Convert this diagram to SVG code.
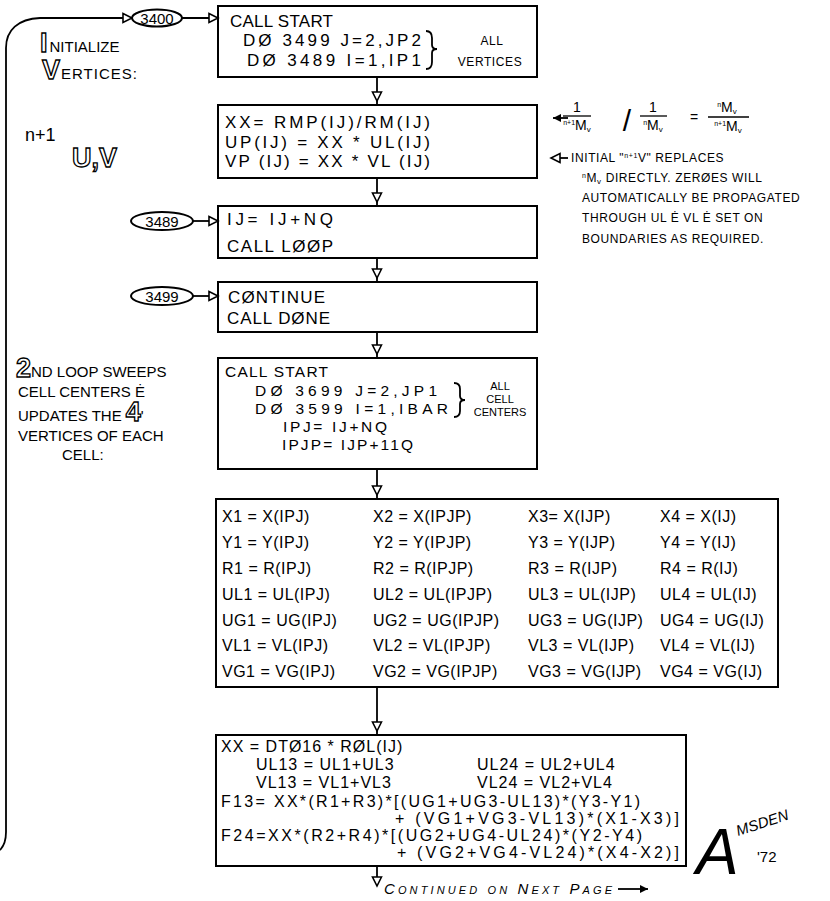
<svg xmlns="http://www.w3.org/2000/svg" width="830" height="901" viewBox="0 0 830 901">
<style>
.bg{fill:#fff}
.box{fill:none;stroke:#000;stroke-width:2}
.conn{fill:none;stroke:#000;stroke-width:1.8}
.oval{fill:#fff;stroke:#000;stroke-width:2}
text{font-family:"Liberation Sans",Arial,sans-serif;fill:#000}
.t{font-size:17px}
.t5{font-size:15.5px}
.tb{font-size:16px;letter-spacing:0.5px}
.tf{font-size:16px;letter-spacing:1px}
.nt{font-size:12px;letter-spacing:0.6px}
.lb{font-size:15px}
.big{font-size:27px;font-weight:bold;fill:#fff;stroke:#000;stroke-width:1.3px}
.ov{font-size:15px;text-anchor:middle}
.sm{font-size:11px;text-anchor:middle}
.fr{font-size:14px;text-anchor:middle}
</style>
<defs>
<marker id="ah" markerUnits="userSpaceOnUse" markerWidth="20" markerHeight="20" refX="13" refY="4.5" orient="auto" overflow="visible">
<path d="M0,0 L9,4.5 L0,9 Z" fill="#fff" stroke="#000" stroke-width="1.6"/>
</marker>
<marker id="ahl" markerUnits="userSpaceOnUse" markerWidth="20" markerHeight="20" refX="9" refY="4.5" orient="auto" overflow="visible">
<path d="M0,0 L9,4.5 L0,9 Z" fill="#fff" stroke="#000" stroke-width="1.6"/>
</marker>
<marker id="ahf" markerUnits="userSpaceOnUse" markerWidth="20" markerHeight="20" refX="8" refY="4" orient="auto" overflow="visible">
<path d="M0,0 L8,4 L0,8 Z" fill="#000"/>
</marker>
</defs>
<rect class="bg" x="0" y="0" width="830" height="901"/>

<g id="connectors">
<path class="conn" d="M0,850 Q6,844 6,832 L6,48 C6,30 18,19 40,18 L132,18" marker-end="url(#ahl)"/>
<path class="conn" d="M182,18 L218,18" marker-end="url(#ahl)"/>
<path class="conn" d="M193,221 L218,221" marker-end="url(#ahl)"/>
<path class="conn" d="M193,296 L218,296" marker-end="url(#ahl)"/>
<path class="conn" d="M377,77 L377,105" marker-end="url(#ah)"/>
<path class="conn" d="M377,178 L377,206" marker-end="url(#ah)"/>
<path class="conn" d="M377,258 L377,282" marker-end="url(#ah)"/>
<path class="conn" d="M377,332 L377,358" marker-end="url(#ah)"/>
<path class="conn" d="M377,469 L377,499" marker-end="url(#ah)"/>
<path class="conn" d="M377,687 L377,735" marker-end="url(#ah)"/>
<path class="conn" d="M377,866 L377,886" marker-end="url(#ahl)"/>
</g>

<g id="oval3400">
<ellipse class="oval" cx="157" cy="18" rx="25" ry="8.5"/>
<text class="ov" x="157" y="23.5">3400</text>
</g>
<g id="oval3489">
<ellipse class="oval" cx="162" cy="221" rx="31" ry="9"/>
<text class="ov" x="162" y="226.5">3489</text>
</g>
<g id="oval3499">
<ellipse class="oval" cx="162" cy="296" rx="31" ry="9"/>
<text class="ov" x="162" y="301.5">3499</text>
</g>

<g id="box1">
<rect class="box" x="218" y="6" width="319" height="71"/>
<text class="t" x="230" y="27" textLength="103" lengthAdjust="spacing">CALL START</text>
<text class="t" x="243" y="46" textLength="178" lengthAdjust="spacing">DØ 3499 J=2,JP2</text>
<text class="t" x="247" y="66" textLength="174" lengthAdjust="spacing">DØ 3489 I=1,IP1</text>
<path class="conn" d="M426,31 Q432,31 432,38 L432,45 Q432,49 437,49 Q432,49 432,53 L432,62 Q432,69 426,69" stroke-width="1.5"/>
<text class="nt" x="492" y="45" text-anchor="middle">ALL</text>
<text class="nt" x="490" y="66" text-anchor="middle">VERTICES</text>
</g>

<g id="box2">
<rect class="box" x="218" y="105" width="319" height="73"/>
<text class="t" x="225" y="128" textLength="205" lengthAdjust="spacing">XX= RMP(IJ)/RM(IJ)</text>
<text class="t" x="225" y="148" textLength="205" lengthAdjust="spacing">UP(IJ) = XX * UL(IJ)</text>
<text class="t" x="225" y="167" textLength="205" lengthAdjust="spacing">VP (IJ) = XX * VL (IJ)</text>
</g>

<g id="box3">
<rect class="box" x="218" y="206" width="319" height="52"/>
<text class="t" x="227" y="225" textLength="106" lengthAdjust="spacing">IJ= IJ+NQ</text>
<text class="t" x="227" y="252" textLength="106" lengthAdjust="spacing">CALL LØØP</text>
</g>

<g id="box4">
<rect class="box" x="218" y="282" width="319" height="50"/>
<text class="t" x="228" y="303" textLength="97" lengthAdjust="spacing">CØNTINUE</text>
<text class="t" x="227" y="324" textLength="103" lengthAdjust="spacing">CALL DØNE</text>
</g>

<g id="box5">
<rect class="box" x="218" y="358" width="319" height="111"/>
<text class="t5" x="225" y="377" textLength="103" lengthAdjust="spacing">CALL START</text>
<text class="t5" x="255" y="396" textLength="182" lengthAdjust="spacing">DØ 3699 J=2,JP1</text>
<text class="t5" x="255" y="414" textLength="193" lengthAdjust="spacing">DØ 3599 I=1,IBAR</text>
<text class="t5" x="283" y="432" textLength="104" lengthAdjust="spacing">IPJ= IJ+NQ</text>
<text class="t5" x="282" y="450" textLength="131" lengthAdjust="spacing">IPJP= IJP+11Q</text>
<path class="conn" d="M454,383 Q460,383 460,389 L460,396 Q460,400 465,400 Q460,400 460,404 L460,411 Q460,417 454,417" stroke-width="1.5"/>
<text class="sm" x="500" y="390">ALL</text>
<text class="sm" x="500" y="403">CELL</text>
<text class="sm" x="500" y="416">CENTERS</text>
</g>

<g id="box6">
<rect class="box" x="216" y="499" width="562" height="188"/>
<text class="tb" x="222" y="522">X1 = X(IPJ)</text>
<text class="tb" x="373" y="522">X2 = X(IPJP)</text>
<text class="tb" x="528" y="522">X3= X(IJP)</text>
<text class="tb" x="660" y="522">X4 = X(IJ)</text>
<text class="tb" x="222" y="548">Y1 = Y(IPJ)</text>
<text class="tb" x="373" y="548">Y2 = Y(IPJP)</text>
<text class="tb" x="528" y="548">Y3 = Y(IJP)</text>
<text class="tb" x="660" y="548">Y4 = Y(IJ)</text>
<text class="tb" x="222" y="574">R1 = R(IPJ)</text>
<text class="tb" x="373" y="574">R2 = R(IPJP)</text>
<text class="tb" x="528" y="574">R3 = R(IJP)</text>
<text class="tb" x="660" y="574">R4 = R(IJ)</text>
<text class="tb" x="222" y="600">UL1 = UL(IPJ)</text>
<text class="tb" x="373" y="600">UL2 = UL(IPJP)</text>
<text class="tb" x="528" y="600">UL3 = UL(IJP)</text>
<text class="tb" x="660" y="600">UL4 = UL(IJ)</text>
<text class="tb" x="222" y="626">UG1 = UG(IPJ)</text>
<text class="tb" x="373" y="626">UG2 = UG(IPJP)</text>
<text class="tb" x="528" y="626">UG3 = UG(IJP)</text>
<text class="tb" x="660" y="626">UG4 = UG(IJ)</text>
<text class="tb" x="222" y="651">VL1 = VL(IPJ)</text>
<text class="tb" x="373" y="651">VL2 = VL(IPJP)</text>
<text class="tb" x="528" y="651">VL3 = VL(IJP)</text>
<text class="tb" x="660" y="651">VL4 = VL(IJ)</text>
<text class="tb" x="222" y="677">VG1 = VG(IPJ)</text>
<text class="tb" x="373" y="677">VG2 = VG(IPJP)</text>
<text class="tb" x="528" y="677">VG3 = VG(IJP)</text>
<text class="tb" x="660" y="677">VG4 = VG(IJ)</text>
</g>

<g id="box7">
<rect class="box" x="216" y="735" width="470" height="131"/>
<text class="tf" x="221" y="752">XX = DTØ16 * RØL(IJ)</text>
<text class="tf" x="256" y="770">UL13 = UL1+UL3</text>
<text class="tf" x="477" y="770">UL24 = UL2+UL4</text>
<text class="tf" x="256" y="788">VL13 = VL1+VL3</text>
<text class="tf" x="477" y="788">VL24 = VL2+VL4</text>
<text class="tf" x="221" y="807" textLength="420" lengthAdjust="spacing">F13= XX*(R1+R3)*[(UG1+UG3-UL13)*(Y3-Y1)</text>
<text class="tf" x="395" y="824" textLength="285" lengthAdjust="spacing">+ (VG1+VG3-VL13)*(X1-X3)]</text>
<text class="tf" x="221" y="841" textLength="422" lengthAdjust="spacing">F24=XX*(R2+R4)*[(UG2+UG4-UL24)*(Y2-Y4)</text>
<text class="tf" x="397" y="858" textLength="283" lengthAdjust="spacing">+ (VG2+VG4-VL24)*(X4-X2)]</text>
</g>

<g id="continued">
<text x="384" y="894" font-size="15" font-style="italic" font-variant="small-caps" textLength="228" lengthAdjust="spacing">Continued on Next Page</text>
<path class="conn" d="M618,889 L648,889" stroke-width="1.5" marker-end="url(#ahf)"/>
</g>

<g id="label-initialize">
<text x="40" y="52"><tspan class="big">I</tspan><tspan class="lb" dx="2">NITIALIZE</tspan></text>
<text x="42" y="79"><tspan class="big">V</tspan><tspan class="lb" dx="1" letter-spacing="1">ERTICES:</tspan></text>
<text x="25" y="141" font-size="18">n+1</text>
<text class="big" x="72" y="167" font-size="30">U,V</text>
</g>

<g id="label-second-loop">
<text x="16" y="377"><tspan class="big" font-size="25">2</tspan><tspan class="lb">ND LOOP SWEEPS</tspan></text>
<text class="lb" x="18" y="397">CELL CENTERS Ė</text>
<text x="18" y="421"><tspan class="lb">UPDATES THE </tspan><tspan class="big" font-size="19">4</tspan><tspan class="lb">'</tspan></text>
<text class="lb" x="18" y="441">VERTICES OF EACH</text>
<text class="lb" x="62" y="460">CELL:</text>
</g>

<g id="note-ratio">
<path class="conn" d="M568,118 L553,118" stroke-width="1.5" marker-end="url(#ahf)"/>
<text class="fr" x="577" y="112">1</text>
<line x1="563" y1="116" x2="591" y2="116" stroke="#000" stroke-width="1.3"/>
<text class="fr" x="577" y="130"><tspan font-size="7" dy="-5">n+1</tspan><tspan dy="5">M</tspan><tspan font-size="8" dy="2">v</tspan></text>
<text x="627" y="131" font-size="30" text-anchor="middle">/</text>
<text class="fr" x="653" y="112">1</text>
<line x1="640" y1="116" x2="667" y2="116" stroke="#000" stroke-width="1.3"/>
<text class="fr" x="653" y="130"><tspan font-size="7" dy="-5">n</tspan><tspan dy="5">M</tspan><tspan font-size="8" dy="2">v</tspan></text>
<text class="fr" x="694" y="122">=</text>
<text class="fr" x="727" y="112"><tspan font-size="7" dy="-5">n</tspan><tspan dy="5">M</tspan><tspan font-size="8" dy="2">v</tspan></text>
<line x1="708" y1="117" x2="749" y2="117" stroke="#000" stroke-width="1.3"/>
<text class="fr" x="728" y="131"><tspan font-size="7" dy="-5">n+1</tspan><tspan dy="5">M</tspan><tspan font-size="8" dy="2">v</tspan></text>
</g>

<g id="note-initial">
<path class="conn" d="M568,158 L551,158" stroke-width="1.5" marker-end="url(#ahl)"/>
<text class="nt" x="571" y="162">INITIAL "<tspan font-size="7" dy="-4">n+1</tspan><tspan dy="4">V</tspan>" REPLACES</text>
<text class="nt" x="582" y="182"><tspan font-size="7" dy="-4">n</tspan><tspan dy="4">M</tspan><tspan font-size="8" dy="2">v</tspan><tspan dy="-2"> DIRECTLY. ZERØES WILL</tspan></text>
<text class="nt" x="582" y="202">AUTOMATICALLY BE PROPAGATED</text>
<text class="nt" x="582" y="222">THROUGH UL Ė VL Ė SET ON</text>
<text class="nt" x="582" y="243">BOUNDARIES AS REQUIRED.</text>
</g>

<g id="signature">
<text x="696" y="874" font-size="64" font-style="italic" font-family="Liberation Serif, serif">A</text>
<text x="738" y="836" font-size="15" font-style="italic" transform="rotate(-18 738 836)">MSDEN</text>
<text x="757" y="862" font-size="15">'72</text>
</g>
</svg>
